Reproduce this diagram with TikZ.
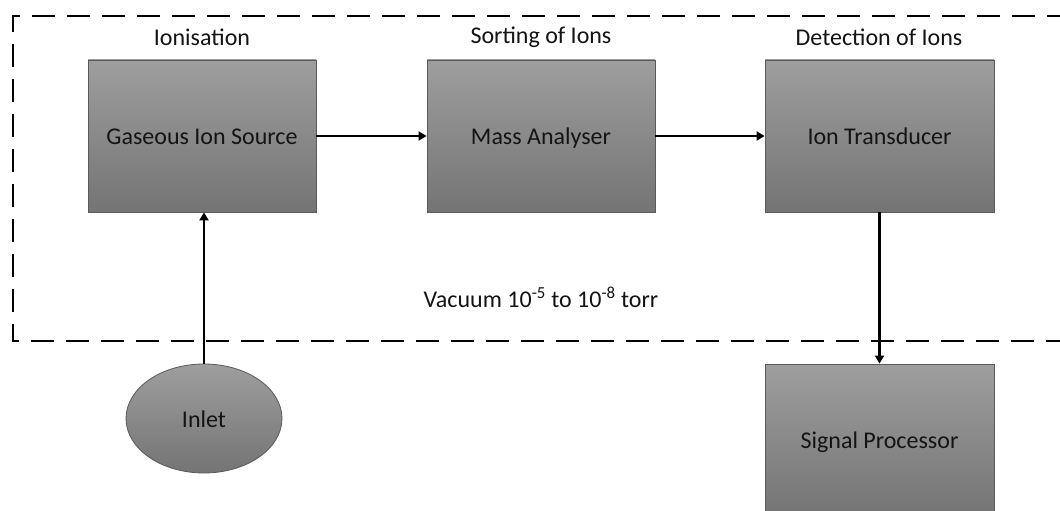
\documentclass[tikz,border=0pt]{standalone}
\usepackage{fontspec}
\setmainfont{Carlito}
\usetikzlibrary{arrows.meta,shapes.geometric}
\definecolor{boxtop}{RGB}{158,158,158}
\definecolor{boxbot}{RGB}{116,116,116}
\definecolor{boxline}{RGB}{90,90,90}
\definecolor{txt}{RGB}{20,20,20}
\tikzset{
  blockbox/.style={draw=boxline, line width=0.8pt, top color=boxtop, bottom color=boxbot,
    minimum width=228pt, minimum height=152pt, inner sep=0pt, text=txt,
    text height=20pt, text depth=2.5pt,
    font=\fontsize{24}{28}\selectfont},
  ovalbox/.style={ellipse, draw=boxline, line width=0.8pt, top color=boxtop, bottom color=boxbot,
    minimum width=156pt, minimum height=109pt, inner sep=0pt, text=txt,
    text height=20pt, text depth=2.5pt,
    font=\fontsize{24}{28}\selectfont},
  caption/.style={font=\fontsize{24}{28}\selectfont, text=txt, inner sep=0pt},
  conn/.style={line width=2.8pt, -{Triangle[width=9pt,length=8pt]}},
  vacline/.style={line width=2.6pt, dash pattern=on 23pt off 12pt}
}
\begin{document}
\begin{tikzpicture}[x=1pt,y=1pt]
\clip (0,0) rectangle (1060,-511);
\fill[white] (0,0) rectangle (1060,-511);
% vacuum enclosure
\coordinate (vtr) at (1070,-16);
\coordinate (vtl) at (13,-16);
\coordinate (vbl) at (13,-341);
\coordinate (vbr) at (1070,-341);
\draw[vacline] (vtr) -- (vtl) -- (vbl) -- (vbr);
% blocks
\node[blockbox] (src) at (202,-136) {Gaseous Ion Source};
\node[blockbox] (mass) at (541,-136) {Mass Analyser};
\node[blockbox, minimum width=229pt] (trans) at (879.5,-136) {Ion Transducer};
\node[blockbox, minimum width=229pt] (sig) at (879.5,-440) {Signal Processor};
\node[ovalbox] (inlet) at (204,-418.5) {Inlet};
% captions
\node[caption] (c1) at (202,-37) {Ionisation};
\node[caption] (c2) at (541,-37) {Sorting of Ions};
\node[caption] (c3) at (879,-37) {Detection of Ions};
\node[caption] (vac) at (541,-297) {Vacuum 10\textsuperscript{-5} to 10\textsuperscript{-8} torr};
% connectors
\draw[conn] (src.east) -- (mass.west);
\draw[conn] (mass.east) -- (trans.west);
\draw[conn] (trans.south) -- (sig.north);
\draw[conn] (inlet.north) -- (inlet.north |- src.south);
\end{tikzpicture}
\end{document}
